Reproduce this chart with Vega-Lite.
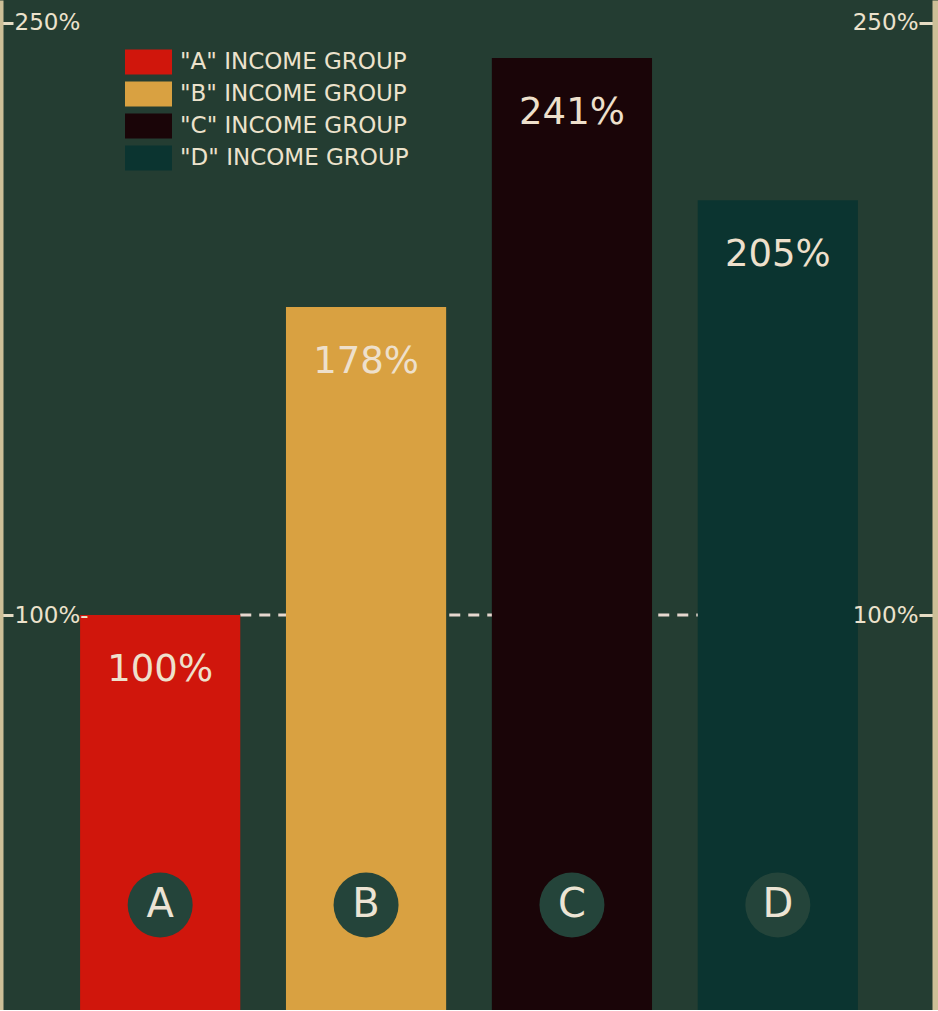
{
  "$schema": "https://vega.github.io/schema/vega-lite/v6.json",
  "width": 938,
  "height": 1010,
  "autosize": {"type": "none"},
  "padding": 0,
  "background": "#243d32",
  "config": {"view": {"stroke": null}, "font": "DejaVu Sans"},
  "data": {
    "values": [
      {"group": "A", "value": 100, "label": "100%"},
      {"group": "B", "value": 178, "label": "178%"},
      {"group": "C", "value": 241, "label": "241%"},
      {"group": "D", "value": 205, "label": "205%"}
    ]
  },
  "resolve": {"axis": {"y": "independent"}},
  "layer": [
    {
      "data": {"values": [{"from": "A", "to": "D", "level": 100}]},
      "mark": {"type": "rule", "strokeDash": [11, 8], "strokeWidth": 3, "color": "#e6d8cf"},
      "encoding": {
        "x": {"field": "from", "type": "nominal", "bandPosition": 1, "sort": ["A", "B", "C", "D"], "scale": {"domain": ["A", "B", "C", "D"], "paddingInner": 0.222, "paddingOuter": 0.389}, "axis": null},
        "x2": {"field": "to"},
        "y": {"field": "level", "type": "quantitative", "scale": {"domain": [0, 255.7], "nice": false, "zero": true},
          "axis": {"orient": "right", "values": [100, 250], "labelExpr": "datum.value + '%'", "grid": false, "title": null, "zindex": 2,
            "domain": true, "domainColor": "#cdbf98", "domainWidth": 12, "offset": 0,
            "ticks": true, "tickSize": -19, "tickWidth": 3, "tickColor": "#e6dcc4",
            "labelAlign": "right", "labelBaseline": "middle", "labelPadding": -1, "labelFontSize": 23, "labelColor": "#ece2cc", "labelFont": "DejaVu Sans"}}
      }
    },
    {
      "mark": {"type": "bar", "opacity": 1},
      "encoding": {
        "x": {"field": "group", "type": "nominal", "axis": null},
        "y": {"field": "value", "type": "quantitative",
          "axis": {"orient": "left", "values": [100, 250], "labelExpr": "datum.value == 100 ? '100%-' : '250%'", "grid": false, "title": null, "zindex": 2,
            "domain": true, "domainColor": "#cdbf98", "domainWidth": 6, "offset": 0,
            "ticks": true, "tickSize": -13, "tickWidth": 3, "tickColor": "#e6dcc4",
            "labelAlign": "left", "labelBaseline": "middle", "labelPadding": -1, "labelFontSize": 23, "labelColor": "#ece2cc", "labelFont": "DejaVu Sans"}},
        "color": {
          "field": "group", "type": "nominal",
          "scale": {"domain": ["A", "B", "C", "D"], "range": ["#d0160c", "#d9a141", "#1a0508", "#0b3430"]},
          "legend": {
            "orient": "none", "legendX": 136, "legendY": 49.5, "title": null, "padding": 0,
            "symbolType": "M-1.88,-1L1.88,-1L1.88,1L-1.88,1Z", "symbolSize": 625, "symbolStrokeWidth": 0, "symbolOpacity": 1,
            "labelExpr": "'\"' + datum.label + '\" INCOME  GROUP'", "labelLimit": 500,
            "labelFontSize": 23, "labelColor": "#ece2cc", "labelFont": "DejaVu Sans", "labelOffset": 19, "rowPadding": 7
          }
        }
      }
    },
    {
      "mark": {"type": "text", "dy": 55, "fontSize": 37, "color": "#eee0cc", "baseline": "middle", "align": "center"},
      "encoding": {
        "x": {"field": "group", "type": "nominal", "axis": null},
        "y": {"field": "value", "type": "quantitative", "axis": null},
        "text": {"field": "label"}
      }
    },
    {
      "mark": {"type": "point", "shape": "circle", "filled": true, "size": 4225, "opacity": 1, "color": "#24443a"},
      "encoding": {
        "x": {"field": "group", "type": "nominal", "axis": null},
        "y": {"datum": 26.6, "type": "quantitative", "axis": null}
      }
    },
    {
      "mark": {"type": "text", "fontSize": 40, "color": "#ece4d4", "baseline": "middle", "align": "center"},
      "encoding": {
        "x": {"field": "group", "type": "nominal", "axis": null},
        "y": {"datum": 26.6, "type": "quantitative", "axis": null},
        "text": {"field": "group"}
      }
    }
  ]
}
